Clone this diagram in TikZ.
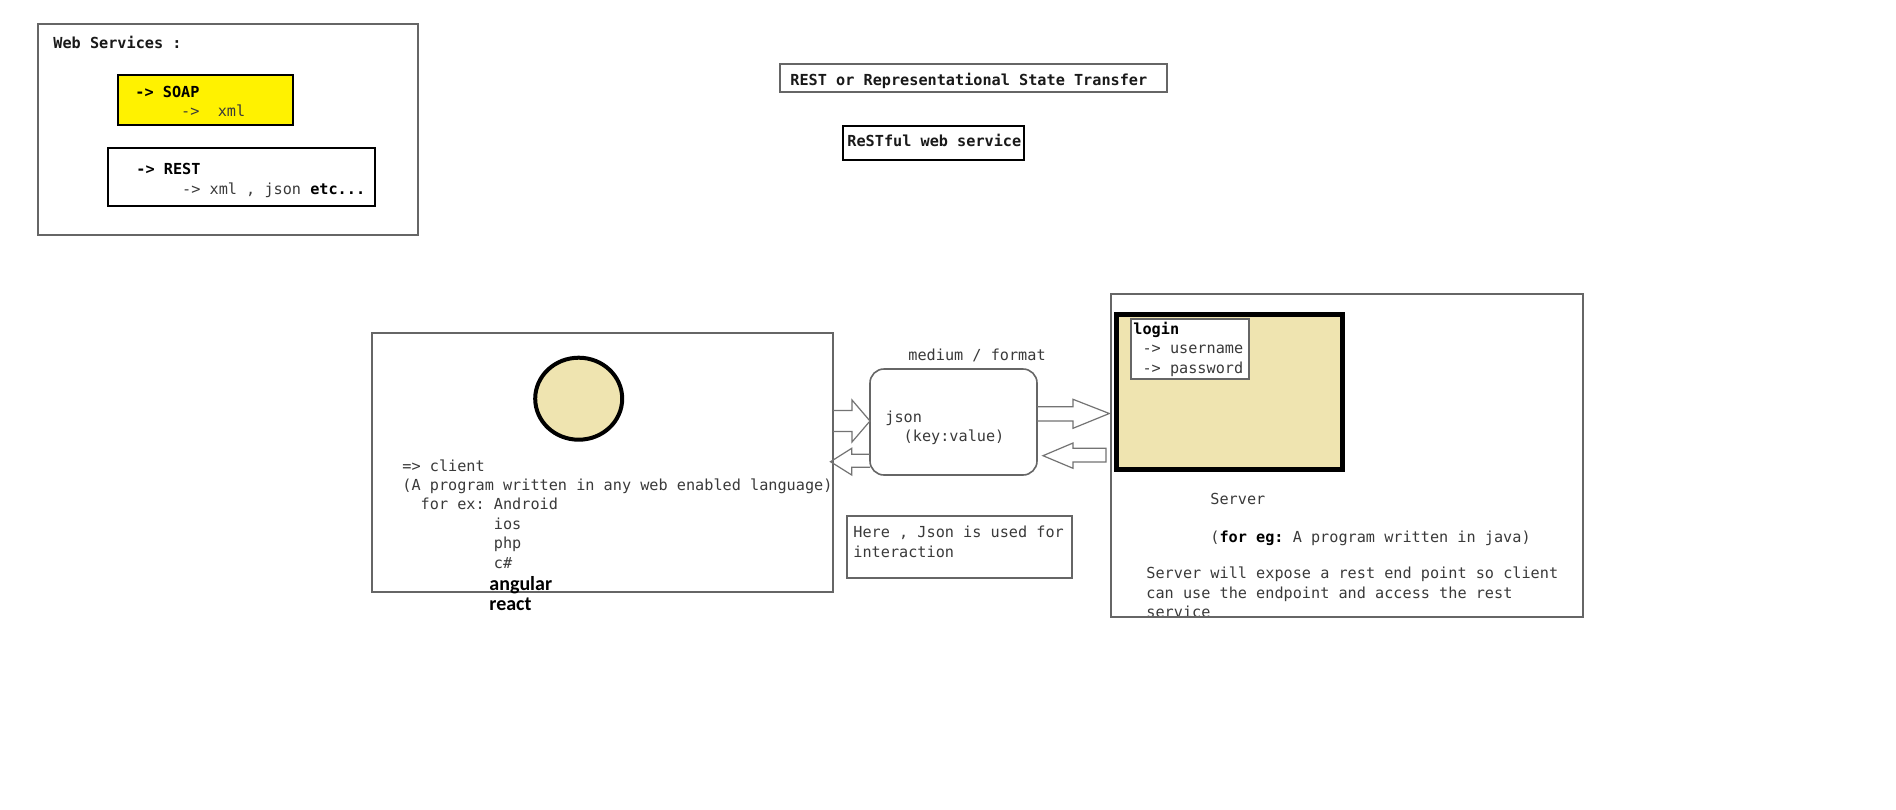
\documentclass[tikz,border=0pt]{standalone}
\usepackage{fontspec}
\setmonofont{DejaVu Sans Mono}
\newfontfamily\calibri{Carlito}
\usetikzlibrary{fit,shapes.geometric}

\definecolor{paintyellow}{HTML}{FFF200}
\definecolor{painttan}{HTML}{EFE4B0}
\definecolor{inkgray}{HTML}{3A3A3A}
\newcommand{\consol}{\fontsize{7.6pt}{9.7pt}\selectfont\ttfamily\frenchspacing}

\tikzset{
    box/.style={draw=black!60, line width=0.8pt, inner sep=0pt},
    darkbox/.style={draw=black, line width=0.8pt, inner sep=0pt},
    txt/.style={font=\consol, text=inkgray, inner sep=0pt, align=left},
    bold/.style={font=\consol\bfseries, text=black!90},
    fat/.style={draw=black!55, line width=0.6pt, line join=miter},
}

\begin{document}
\begin{tikzpicture}[x=0.5pt,y=-0.5pt]
    \path[fill=white] (0,0) rectangle (1896,809);

    % web services
    \node[box, fit={(38,24) (418,235)}] (websvc) {};
    \node[darkbox, fill=paintyellow, fit={(118,75) (293,125)}] (soap) {};
    \node[darkbox, fit={(108,148) (375,206)}] (rest) {};
    \node[txt, bold, anchor=base west] (wstitle) at (53,48.3) {Web Services :};
    \node[txt, anchor=north west] (soaptxt) at (135,83.1) {\strut\textbf{\textcolor{black}{-> SOAP}}\\\phantom{xxxxx}->~~xml};
    \node[txt, anchor=north west] (resttxt) at (136,160.7) {\strut\textbf{\textcolor{black}{-> REST}}\\\phantom{xxxxx}-> xml , json \textbf{\textcolor{black}{etc...}}};

    % headings
    \node[box, fit={(780,64) (1167,92)}] (restlong) {};
    \node[darkbox, fit={(843,126) (1024,160)}] (restful) {};
    \node[txt, bold, anchor=base west] (restlongtxt) at (790,85) {REST or Representational State Transfer};
    \node[txt, bold, anchor=base west] (restfultxt) at (847,146.7) {ReSTful web service};

    % client
    \node[box, fit={(372,333) (833,592)}] (client) {};
    \node[ellipse, draw=black, line width=2pt, fill=painttan, minimum width=43.5pt, minimum height=41pt, inner sep=0pt] (face) at (578.7,398.7) {};
    \node[txt, anchor=north west] (clienttxt) at (402,457.1) {\strut=> client\\(A program written in any web enabled language)\\\phantom{xx}for ex: Android\\\phantom{xxxxxxxxxx}ios\\\phantom{xxxxxxxxxx}php\\\phantom{xxxxxxxxxx}c\#};
    \node[inner sep=0pt, align=left, anchor=north west, font=\fontsize{10pt}{9.75pt}\selectfont\calibri\bfseries] (jsfw) at (489,576.4) {\strut angular\\react};

    % medium
    \node[box, rounded corners=7pt, fit={(870,369) (1037,475)}] (json) {};
    \node[txt, anchor=base west] (medium) at (908,360.7) {medium / format};
    \node[txt, anchor=north west] (jsontxt) at (885,408.1) {\strut json\\\phantom{xx}(key:value)};
    \node[box, fit={(847,516) (1072,578)}] (note) {};
    \node[txt, anchor=north west] (notetxt) at (853,523.7) {\strut Here , Json is used for\\interaction};

    % block arrows
    \draw[fat] (833,410.5) -- (852,410.5) -- (852,400) -- (870,421) -- (852,442) -- (852,431.5) -- (833,431.5);
    \draw[fat] (870,454.3) -- (851.7,454.3) -- (851.7,448.3) -- (830.5,461.7) -- (851.7,475) -- (851.7,467.3) -- (870,467.3);
    \draw[fat] (1037,406.7) -- (1073,406.7) -- (1073,399.3) -- (1109.3,413.5) -- (1073,428.3) -- (1073,421) -- (1037,421);
    \draw[fat] (1106,448.3) -- (1073,448.3) -- (1073,443) -- (1043,455.7) -- (1073,468.3) -- (1073,462) -- (1106,462) -- cycle;

    % server
    \node[txt, anchor=base west] (servertxt) at (1210,504) {Server};
    \node[txt, anchor=base west] (javatxt) at (1210,542.7) {(\textbf{\textcolor{black}{for eg:}} A program written in java)};
    \node[txt, anchor=north west] (exposetxt) at (1146,564.7) {\strut Server will expose a rest end point so client\\can use the endpoint and access the rest\\service};
    \node[box, fit={(1111,294) (1583,617)}] (server) {};
    \node[draw=black, line width=2.5pt, fill=painttan, inner sep=0pt, fit={(1116.5,314.5) (1342.5,469.5)}] (screen) {};
    \node[box, fill=white, fit={(1131,319) (1249,379)}] (login) {};
    \node[txt, anchor=north west] (logintxt) at (1133,320.4) {\strut\textbf{\textcolor{black}{login}}\\\phantom{x}-> username\\\phantom{x}-> password};
\end{tikzpicture}
\end{document}
